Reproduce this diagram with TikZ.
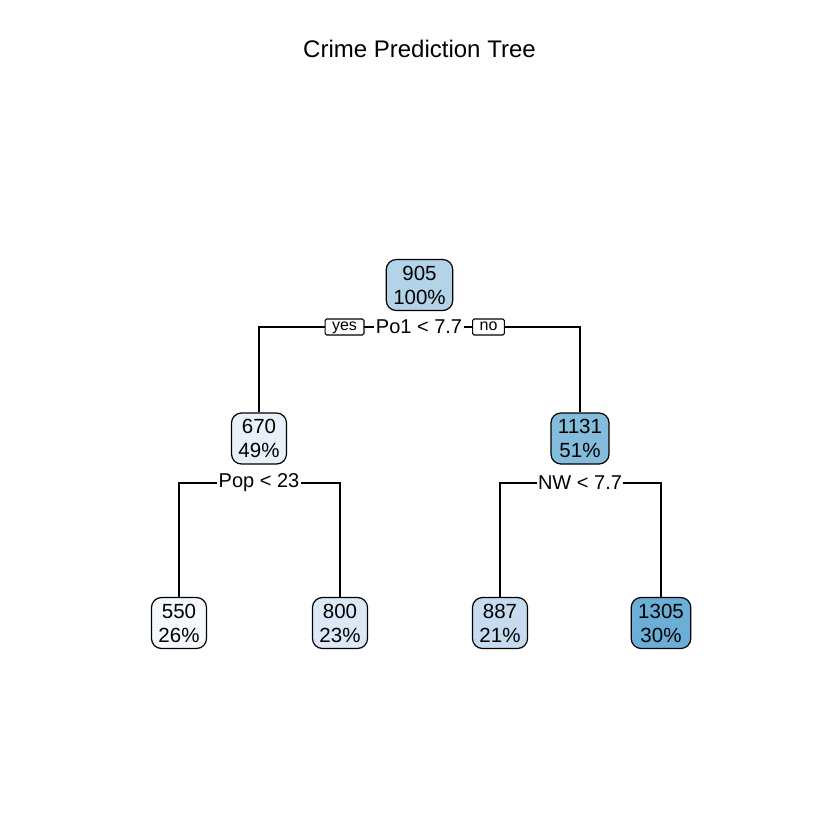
\documentclass[tikz,border=0pt]{standalone}
\usepackage{fontspec}
\setmainfont{Liberation Sans}
\definecolor{cA}{HTML}{F5F9FD}
\definecolor{cB}{HTML}{E8F1FA}
\definecolor{cC}{HTML}{DCE8F5}
\definecolor{cD}{HTML}{C6DBEF}
\definecolor{cE}{HTML}{B3D3E8}
\definecolor{cF}{HTML}{84BCDB}
\definecolor{cG}{HTML}{6BAED6}
\begin{document}
\begin{tikzpicture}[x=1pt,y=-1pt,
  treenode/.style={draw=black, line width=1.2pt, rounded corners=10pt, align=center,
    minimum height=51pt, inner xsep=7pt, inner ysep=2pt,
    font=\fontsize{20.5}{24}\selectfont},
  splitlab/.style={fill=white, inner xsep=1.5pt, inner ysep=1pt, font=\fontsize{20}{24}\selectfont},
  yesno/.style={draw=black, fill=white, line width=1.1pt, rounded corners=1.5pt,
    text height=9pt, text depth=2pt, inner xsep=7pt, inner ysep=2.5pt,
    font=\fontsize{16}{16}\selectfont},
  edge/.style={line width=1.2pt}]
\useasboundingbox (0,0) rectangle (840,840);
\node[font=\fontsize{24}{28}\selectfont] (title) at (419.5,49) {Crime Prediction Tree};

\node[treenode, fill=cE] (root) at (419.5,285) {905\\100\%};
\node[treenode, fill=cB] (n670) at (259,438.5) {670\\49\%};
\node[treenode, fill=cF] (n1131) at (580,438.5) {1131\\51\%};
\node[treenode, fill=cA] (n550) at (179,623) {550\\26\%};
\node[treenode, fill=cC] (n800) at (340,623) {800\\23\%};
\node[treenode, fill=cD] (n887) at (500,623) {887\\21\%};
\node[treenode, fill=cG] (n1305) at (661,623) {1305\\30\%};

\coordinate (s1) at (419,327);
\coordinate (s2) at (259,483);
\coordinate (s3) at (580,483);

\draw[edge] (n670.north) |- (s1) -| (n1131.north);
\draw[edge] (n550.north) |- (s2) -| (n800.north);
\draw[edge] (n887.north) |- (s3) -| (n1305.north);

\node[splitlab] (l1) at (s1) {Po1 < 7.7};
\node[splitlab] (l2) at (s2) {Pop < 23};
\node[splitlab] (l3) at (s3) {NW < 7.7};
\node[yesno] (yes) at (344.5,327) {yes};
\node[yesno] (no) at (488.5,327) {no};
\end{tikzpicture}
\end{document}
